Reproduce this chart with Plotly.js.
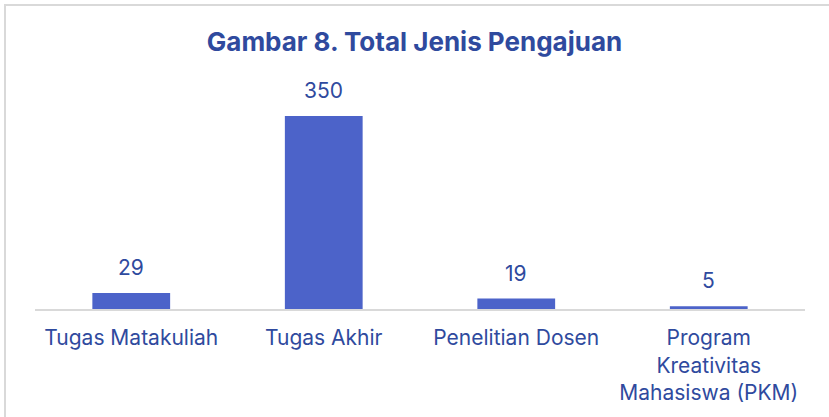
<!DOCTYPE html>
<html>
<head>
<meta charset="utf-8">
<script src="https://cdn.plot.ly/plotly-3.0.1.min.js"></script>
<style>
html,body{margin:0;padding:0;background:#fff;}
#wrap{position:relative;width:829px;height:417px;overflow:hidden;}
#frame{position:absolute;left:4px;top:4px;width:840px;height:430px;border-left:2px solid #d9d9d9;border-top:2px solid #d9d9d9;box-sizing:border-box;}
#chart{position:absolute;left:0;top:0;width:829px;height:417px;}
</style>
</head>
<body>
<div id="wrap">
<div id="frame"></div>
<div id="chart"></div>
</div>
<script>
const categories = ["Tugas Matakuliah", "Tugas Akhir", "Penelitian Dosen", "Program<br>Kreativitas<br>Mahasiswa (PKM)"];
const values = [29, 350, 19, 5];
const valueLabels = ["29", "350", "19", "5"];

const textColor = "#2F4A9E";
const fontFamily = "Inter, sans-serif";

const trace = {
  type: "bar",
  x: categories,
  y: values,
  marker: {color: "#4C63C9", line: {width: 0}},
  hoverinfo: "none"
};

const annotations = categories.map((c, i) => ({
  x: c, y: values[i], xref: "x", yref: "y",
  text: valueLabels[i], showarrow: false,
  yanchor: "bottom", yshift: 11,
  font: {family: fontFamily, size: 21, color: textColor}
}));

const layout = {
  width: 829,
  height: 417,
  paper_bgcolor: "rgba(0,0,0,0)",
  plot_bgcolor: "rgba(0,0,0,0)",
  margin: {l: 35, r: 24, t: 80, b: 108},
  title: {
    text: "<b>Gambar 8. Total Jenis Pengajuan</b>",
    font: {family: fontFamily, size: 26, color: textColor},
    x: 0.5, xanchor: "center", y: 0.9, yanchor: "middle", yref: "container"
  },
  annotations: annotations,
  bargap: 0.596,
  showlegend: false,
  xaxis: {
    showline: true, linecolor: "#d9d9d9", linewidth: 2,
    ticks: "", showgrid: false, zeroline: false,
    ticklabelstandoff: 9,
    tickfont: {family: fontFamily, size: 21, color: textColor},
    automargin: false
  },
  yaxis: {
    range: [0, 415.3], visible: false, showgrid: false, zeroline: false, fixedrange: true
  }
};

Plotly.newPlot("chart", [trace], layout, {displayModeBar: false, staticPlot: true});
</script>
</body>
</html>
